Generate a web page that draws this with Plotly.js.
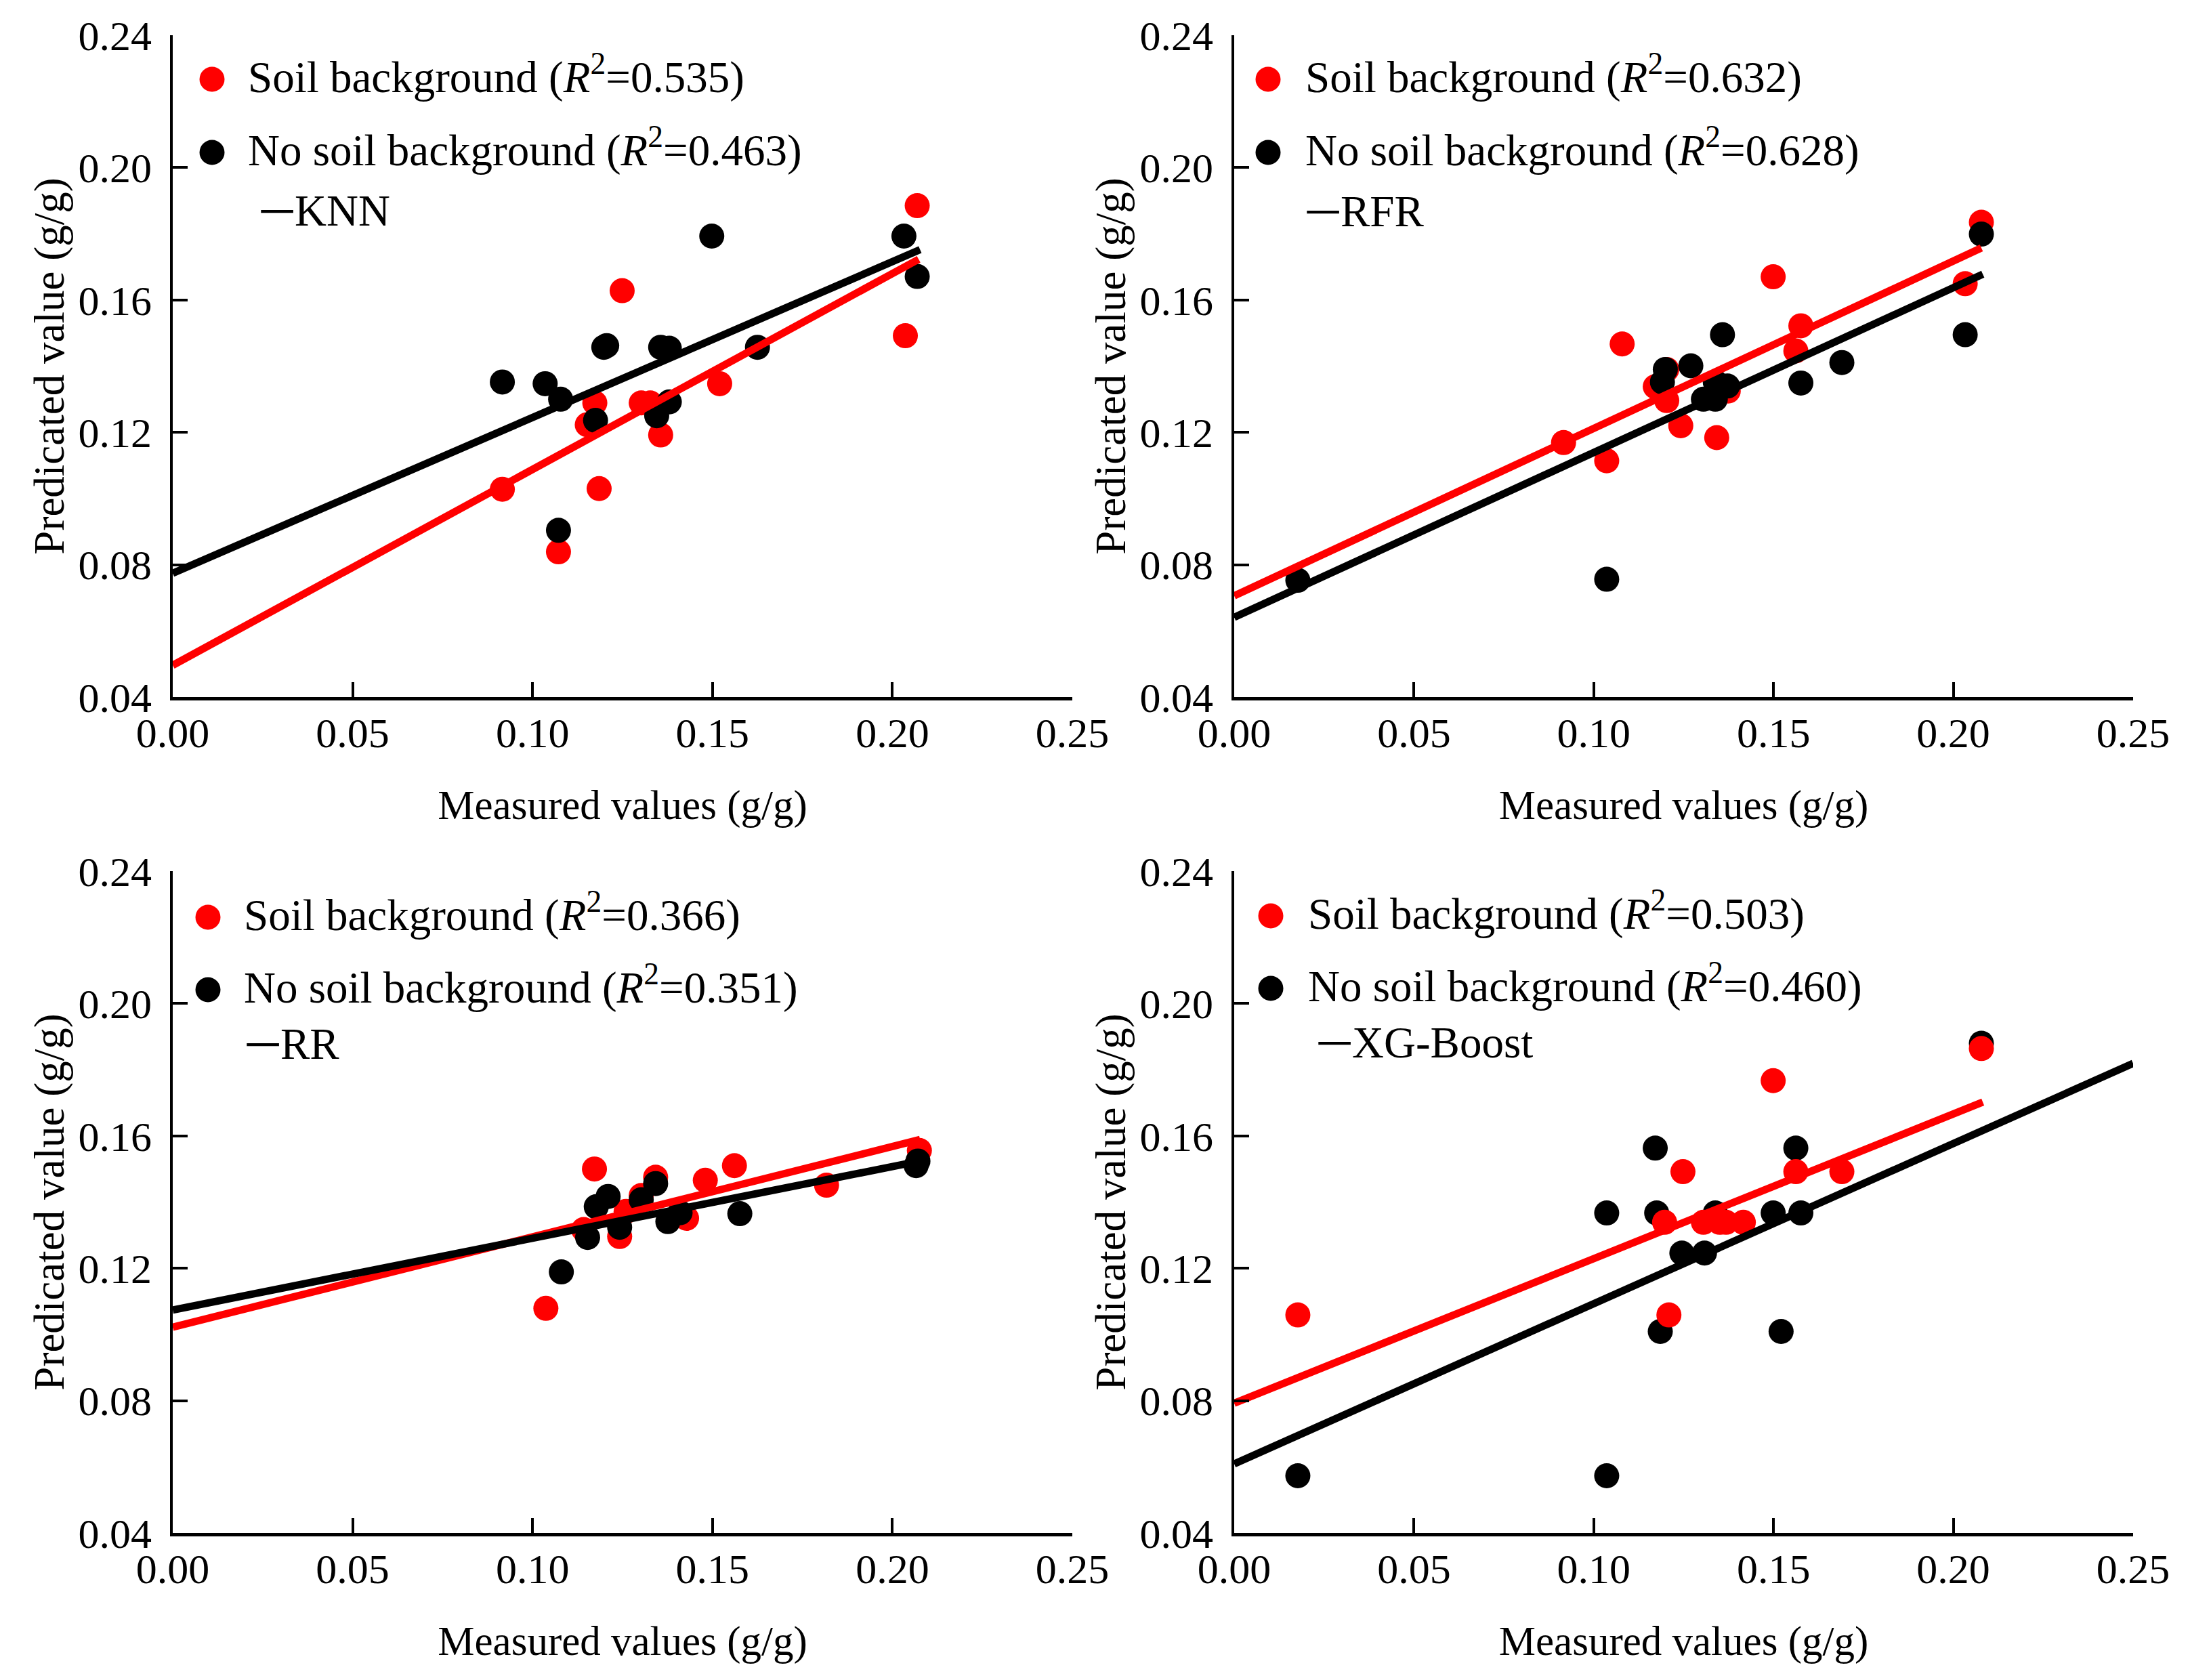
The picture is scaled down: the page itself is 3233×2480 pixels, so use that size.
<!DOCTYPE html>
<html>
<head>
<meta charset="utf-8">
<script src="https://cdn.plot.ly/plotly-3.0.1.min.js"></script>
<style>html,body{margin:0;padding:0;background:#fff;}#chart{width:3233px;height:2480px;}</style>
</head>
<body>
<div id="chart"></div>
<script>
// ---------- DATA ----------
const panelNames = ["KNN", "RFR", "RR", "XG-Boost"];
const r2Soil = ["0.535", "0.632", "0.366", "0.503"];
const r2NoSoil = ["0.463", "0.628", "0.351", "0.460"];
const xTickVals = [0.00, 0.05, 0.10, 0.15, 0.20, 0.25];
const yTickVals = [0.04, 0.08, 0.12, 0.16, 0.20, 0.24];

// KNN
const knnSoilX = [0.0916, 0.1072, 0.1185, 0.1173, 0.1152, 0.1249, 0.1302, 0.1327, 0.1356, 0.1520, 0.2036, 0.2069];
const knnSoilY = [0.1028, 0.0839, 0.1030, 0.1289, 0.1223, 0.1628, 0.1289, 0.1289, 0.1192, 0.1347, 0.1492, 0.1885];
const knnNoSoilX = [0.0916, 0.1035, 0.1078, 0.1072, 0.1175, 0.1198, 0.1206, 0.1356, 0.1380, 0.1345, 0.1380, 0.1498, 0.1625, 0.2032, 0.2069];
const knnNoSoilY = [0.1352, 0.1347, 0.1300, 0.0904, 0.1236, 0.1457, 0.1462, 0.1457, 0.1454, 0.1250, 0.1292, 0.1793, 0.1457, 0.1793, 0.1671];
const knnSoilFitX = [0, 0.2073];
const knnSoilFitY = [0.0496, 0.1723];
const knnNoSoilFitX = [0, 0.2077];
const knnNoSoilFitY = [0.0774, 0.1752];

// RFR
const rfrSoilX = [0.0916, 0.1036, 0.1079, 0.1171, 0.1203, 0.1203, 0.1242, 0.1342, 0.1374, 0.1499, 0.1562, 0.1576, 0.2033, 0.2078];
const rfrSoilY = [0.1169, 0.1114, 0.1467, 0.1338, 0.1390, 0.1296, 0.1220, 0.1184, 0.1325, 0.1670, 0.1446, 0.1522, 0.1649, 0.1835];
const rfrNoSoilX = [0.0177, 0.1036, 0.1199, 0.1191, 0.1270, 0.1358, 0.1305, 0.1338, 0.1338, 0.1372, 0.1576, 0.1690, 0.2033, 0.2078];
const rfrNoSoilY = [0.0753, 0.0756, 0.1390, 0.1352, 0.1401, 0.1495, 0.1300, 0.1300, 0.1352, 0.1340, 0.1349, 0.1411, 0.1495, 0.1799];
const rfrSoilFitX = [0, 0.2078];
const rfrSoilFitY = [0.0706, 0.1757];
const rfrNoSoilFitX = [0, 0.2082];
const rfrNoSoilFitY = [0.0641, 0.1678];

// RR
const rrSoilX = [0.1037, 0.1142, 0.1172, 0.1242, 0.1260, 0.1302, 0.1342, 0.1428, 0.1480, 0.1561, 0.1817, 0.2075];
const rrSoilY = [0.1079, 0.1317, 0.1500, 0.1296, 0.1372, 0.1420, 0.1475, 0.1351, 0.1466, 0.1510, 0.1451, 0.1556];
const rrNoSoilX = [0.1080, 0.1153, 0.1177, 0.1210, 0.1242, 0.1302, 0.1342, 0.1376, 0.1410, 0.1576, 0.2071, 0.2066];
const rrNoSoilY = [0.1189, 0.1293, 0.1386, 0.1417, 0.1324, 0.1407, 0.1456, 0.1341, 0.1368, 0.1365, 0.1524, 0.1510];
const rrSoilFitX = [0, 0.2077];
const rrSoilFitY = [0.1022, 0.1589];
const rrNoSoilFitX = [0, 0.2077];
const rrNoSoilFitY = [0.1074, 0.1524];

// XG-Boost
const xgbSoilX = [0.0177, 0.1209, 0.1197, 0.1248, 0.1305, 0.1350, 0.1368, 0.1416, 0.1499, 0.1562, 0.1690, 0.2078];
const xgbSoilY = [0.1059, 0.1059, 0.1339, 0.1492, 0.1339, 0.1339, 0.1339, 0.1339, 0.1767, 0.1492, 0.1492, 0.1864];
const xgbNoSoilX = [0.0177, 0.1036, 0.1036, 0.1171, 0.1175, 0.1185, 0.1245, 0.1308, 0.1338, 0.1499, 0.1521, 0.1562, 0.1576, 0.2078];
const xgbNoSoilY = [0.0573, 0.0573, 0.1367, 0.1563, 0.1367, 0.1009, 0.1246, 0.1246, 0.1367, 0.1367, 0.1009, 0.1563, 0.1367, 0.1880];
const xgbSoilFitX = [0, 0.2082];
const xgbSoilFitY = [0.0792, 0.1702];
const xgbNoSoilFitX = [0, 0.25];
const xgbNoSoilFitY = [0.0609, 0.1819];

// ---------- BUILD ----------
const W = 3233, H = 2480;
const FONT = "Liberation Serif, Times New Roman, serif";
const RED = "#ff0000", BLACK = "#000000";

const panels = [
  {sx: knnSoilX, sy: knnSoilY, nx: knnNoSoilX, ny: knnNoSoilY, sfx: knnSoilFitX, sfy: knnSoilFitY, nfx: knnNoSoilFitX, nfy: knnNoSoilFitY, redOnTop: false},
  {sx: rfrSoilX, sy: rfrSoilY, nx: rfrNoSoilX, ny: rfrNoSoilY, sfx: rfrSoilFitX, sfy: rfrSoilFitY, nfx: rfrNoSoilFitX, nfy: rfrNoSoilFitY, redOnTop: false},
  {sx: rrSoilX, sy: rrSoilY, nx: rrNoSoilX, ny: rrNoSoilY, sfx: rrSoilFitX, sfy: rrSoilFitY, nfx: rrNoSoilFitX, nfy: rrNoSoilFitY, redOnTop: false},
  {sx: xgbSoilX, sy: xgbSoilY, nx: xgbNoSoilX, ny: xgbNoSoilY, sfx: xgbSoilFitX, sfy: xgbSoilFitY, nfx: xgbNoSoilFitX, nfy: xgbNoSoilFitY, redOnTop: true}
];

// panel geometry in pixels: left, right, top, bottom of the axes box
const geom = [
  {l: 255, r: 1583, t: 52, b: 1029, mk: 58, tx: 109, dx: 126, rows: [65, 173, 258]},
  {l: 1822, r: 3149, t: 52, b: 1029, mk: 50, tx: 103, dx: 103, rows: [65, 173, 260]},
  {l: 255, r: 1583, t: 1286, b: 2263, mk: 52, tx: 103, dx: 105, rows: [68, 175, 254]},
  {l: 1822, r: 3149, t: 1286, b: 2263, mk: 54, tx: 107, dx: 120, rows: [66, 173, 252]}
];

const px2x = p => p / W;
const px2y = p => 1 - p / H;

const traces = [];
const layout = {
  width: W, height: H,
  margin: {l: 0, r: 0, t: 0, b: 0},
  paper_bgcolor: "#fff", plot_bgcolor: "#fff",
  showlegend: false,
  font: {family: FONT, color: "#000"},
  annotations: [],
  shapes: []
};

const markerSize = 37;
const lineW = 11;
const textShift = 8;

panels.forEach((p, i) => {
  const n = i + 1;
  const xa = "x" + (n === 1 ? "" : n), ya = "y" + (n === 1 ? "" : n);
  const soil = {type: "scatter", mode: "markers", x: p.sx, y: p.sy, xaxis: xa, yaxis: ya,
    marker: {color: RED, size: markerSize, line: {width: 0}}, cliponaxis: false};
  const noSoil = {type: "scatter", mode: "markers", x: p.nx, y: p.ny, xaxis: xa, yaxis: ya,
    marker: {color: BLACK, size: markerSize, line: {width: 0}}, cliponaxis: false};
  if (p.redOnTop) { traces.push(noSoil, soil); } else { traces.push(soil, noSoil); }
  traces.push({type: "scatter", mode: "lines", x: p.sfx, y: p.sfy, xaxis: xa, yaxis: ya,
    line: {color: RED, width: lineW}});
  traces.push({type: "scatter", mode: "lines", x: p.nfx, y: p.nfy, xaxis: xa, yaxis: ya,
    line: {color: BLACK, width: lineW}});

  const g = geom[i];
  const axCommon = {
    showline: true, linecolor: "#000", linewidth: 4.5,
    showgrid: false, zeroline: false,
    ticks: "inside", ticklen: 22, tickwidth: 4, tickcolor: "#000",
    tickfont: {family: FONT, size: 62, color: "#000"},
    tickformat: ".2f", tickmode: "array", fixedrange: true
  };
  layout["xaxis" + (n === 1 ? "" : n)] = Object.assign({}, axCommon, {
    domain: [px2x(g.l), px2x(g.r)], range: [0, 0.25], tickvals: xTickVals,
    anchor: ya, ticklabelstandoff: -5,
    title: {text: "Measured values (g/g)", font: {family: FONT, size: 61, color: "#000"}, standoff: 53}
  });
  layout["yaxis" + (n === 1 ? "" : n)] = Object.assign({}, axCommon, {
    domain: [px2y(g.b), px2y(g.t)], range: [0.04, 0.24], tickvals: yTickVals,
    anchor: xa, ticklabelstandoff: 14,
    title: {text: "Predicated value (g/g)", font: {family: FONT, size: 63, color: "#000"}, standoff: 2}
  });

  // legend swatches and texts
  const legFont = {family: FONT, size: 65, color: "#000"};
  [RED, BLACK].forEach((c, k) => {
    layout.shapes.push({type: "circle", xref: "paper", yref: "paper",
      xsizemode: "pixel", ysizemode: "pixel",
      xanchor: px2x(g.l + g.mk), yanchor: px2y(g.t + g.rows[k]),
      x0: -18.5, x1: 18.5, y0: -18.5, y1: 18.5,
      fillcolor: c, line: {width: 0}});
  });
  layout.annotations.push({xref: "paper", yref: "paper", x: px2x(g.l + g.tx), y: px2y(g.t + g.rows[0] - textShift),
    xanchor: "left", yanchor: "middle", showarrow: false, font: legFont,
    text: "Soil background (<i>R</i><sup>2</sup>=" + r2Soil[i] + ")"});
  layout.annotations.push({xref: "paper", yref: "paper", x: px2x(g.l + g.tx), y: px2y(g.t + g.rows[1] - textShift),
    xanchor: "left", yanchor: "middle", showarrow: false, font: legFont,
    text: "No soil background (<i>R</i><sup>2</sup>=" + r2NoSoil[i] + ")"});
  layout.annotations.push({xref: "paper", yref: "paper", x: px2x(g.l + g.dx), y: px2y(g.t + g.rows[2]),
    xanchor: "left", yanchor: "middle", showarrow: false, font: legFont,
    text: "<span style=\"font-family:'Noto Sans CJK SC';font-size:52px\">一</span>" + panelNames[i]});
});

Plotly.newPlot("chart", traces, layout, {staticPlot: true, displayModeBar: false});
</script>
</body>
</html>
